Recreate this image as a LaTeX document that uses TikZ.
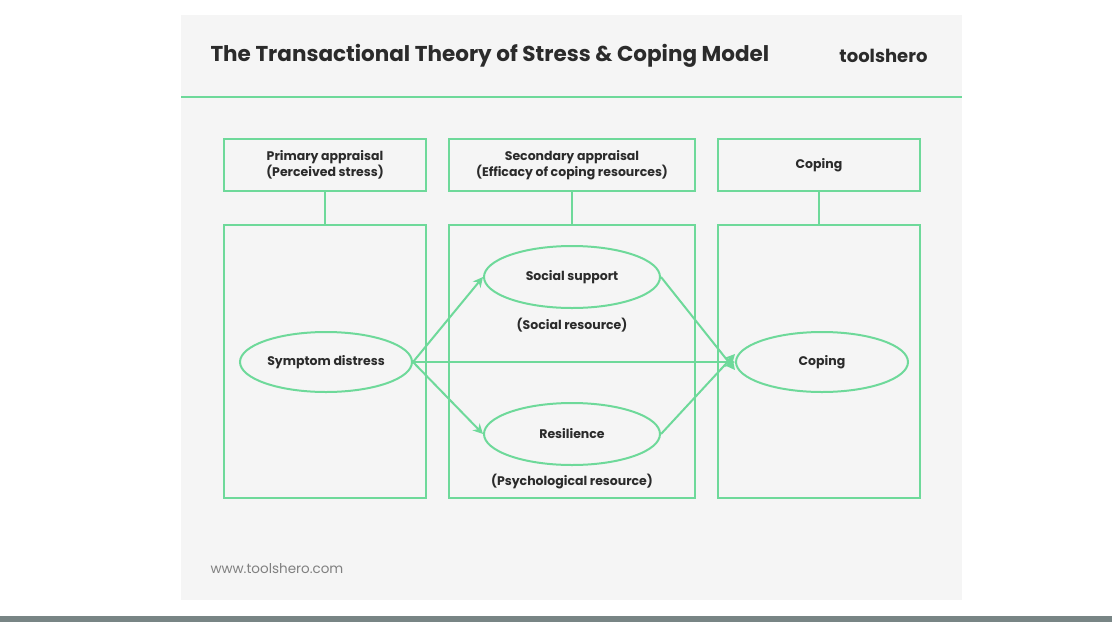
\documentclass[tikz,border=0pt]{standalone}
\usepackage{fontspec}
\setmainfont{Poppins}
\usetikzlibrary{arrows.meta,shapes.geometric}
\definecolor{gr}{HTML}{6ED99A}
\definecolor{pan}{HTML}{F5F5F5}
\definecolor{txt}{HTML}{2B2B2B}
\tikzset{x=1pt,y=-1pt,
 box/.style={draw=gr,line width=2pt,minimum width=#1,inner sep=0pt},
 ell/.style={ellipse,draw=gr,line width=2pt,minimum width=172pt,minimum height=60pt,inner sep=0pt,font=\fontsize{12.5}{15.5}\selectfont\bfseries,text=txt},
 lab/.style={font=\fontsize{12.5}{15.5}\selectfont\bfseries,text=txt,align=center},
 arr/.style={draw=gr,line width=2pt,-{Stealth[length=10pt,width=10pt]}},
 ln/.style={draw=gr,line width=2pt}}
\begin{document}
\begin{tikzpicture}
\useasboundingbox (0,0) rectangle (1112,622);
\fill[white] (0,0) rectangle (1112,622);
\fill[pan] (181,15) rectangle (962,600);
\fill[gray!60!teal!40!black!60] (0,616) rectangle (1112,622);
\draw[ln] (181,97) -- (962,97);
\node[anchor=west,font=\fontsize{21.5}{25}\selectfont\bfseries,text=txt] (title) at (207,56) {The Transactional Theory of Stress \& Coping Model};
\node[anchor=east,font=\fontsize{18}{21}\selectfont\bfseries,text=txt] (logo) at (931,56) {toolshero};
\node[anchor=west,font=\fontsize{13.5}{16}\selectfont,text=gray] (url) at (207,569) {www.toolshero.com};
\node[box=202pt,minimum height=52pt,lab] (h1) at (325,165) {Primary appraisal\\(Perceived stress)};
\node[box=246pt,minimum height=52pt,lab] (h2) at (572,165) {Secondary appraisal\\(Efficacy of coping resources)};
\node[box=202pt,minimum height=52pt,lab] (h3) at (819,165) {Coping};
\node[box=202pt,minimum height=273pt] (b1) at (325,361.5) {};
\node[box=246pt,minimum height=273pt] (b2) at (572,361.5) {};
\node[box=202pt,minimum height=273pt] (b3) at (819,361.5) {};
\draw[ln] (h1.south) -- (b1.north);
\draw[ln] (h2.south) -- (b2.north);
\draw[ln] (h3.south) -- (b3.north);
\node[ell] (sd) at (326,362) {Symptom distress};
\node[ell,minimum width=176pt,minimum height=62pt] (ss) at (572,277) {Social support};
\node[ell,minimum width=176pt,minimum height=62pt] (re) at (572,434) {Resilience};
\node[ell] (co) at (822,362) {Coping};
\node[lab] (sr) at (572,325) {(Social resource)};
\node[lab] (pr) at (572,482) {(Psychological resource)};
\draw[arr] (sd.east) -- (ss.west);
\draw[arr] (sd.east) -- (re.west);
\draw[arr] (sd.east) -- (co.west);
\draw[arr] (ss.east) -- ([yshift=-8pt]co.west);
\draw[arr] (re.east) -- ([yshift=8pt]co.west);
\end{tikzpicture}
\end{document}
